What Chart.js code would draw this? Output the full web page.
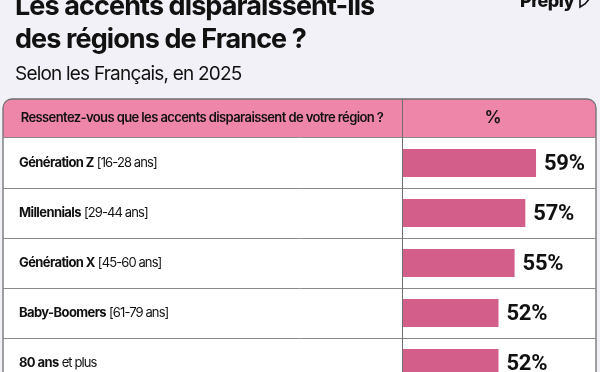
<!DOCTYPE html>
<html>
<head>
<meta charset="utf-8">
<script src="https://cdn.jsdelivr.net/npm/chart.js@4.4.1/dist/chart.umd.min.js"></script>
<style>
html,body{margin:0;padding:0;overflow:hidden;background:#F2F1F7;}
#wrap{position:relative;width:600px;height:400px;}
</style>
</head>
<body>
<div id="wrap"><canvas id="c"></canvas></div>
<script>
const titleLines = ["Les accents disparaissent-ils", "des régions de France ?"];
const subtitle = "Selon les Français, en 2025";
const headerQuestion = "Ressentez-vous que les accents disparaissent de votre région ?";
const headerValue = "%";
const categoryNames = ["Génération Z", "Millennials", "Génération X", "Baby-Boomers", "80 ans"];
const categoryDetails = ["[16-28 ans]", "[29-44 ans]", "[45-60 ans]", "[61-79 ans]", "et plus"];
const values = [59, 57, 55, 52, 52];
const valueSuffix = "%";

const C = {
  bg: "#F2F1F7", header: "#EE86A9", bar: "#D35E8A", text: "#111111",
  line: "#8a8a8a", border: "#6f6f6f"
};
const TABLE = {left: 3, right: 596, top: 99, headerBottom: 137, divider: 402, radius: 9};

function roundRectTop(ctx, x, y, w, h, r) {
  ctx.beginPath();
  ctx.moveTo(x, y + h);
  ctx.lineTo(x, y + r);
  ctx.arcTo(x, y, x + r, y, r);
  ctx.lineTo(x + w - r, y);
  ctx.arcTo(x + w, y, x + w, y + r, r);
  ctx.lineTo(x + w, y + h);
}

const tablePlugin = {
  id: "tablePlugin",
  beforeDraw(chart) {
    const ctx = chart.ctx;
    const H = chart.height;
    ctx.save();
    ctx.fillStyle = C.bg;
    ctx.fillRect(0, 0, chart.width, H);

    // Titles
    ctx.fillStyle = C.text;
    ctx.textBaseline = "alphabetic";
    ctx.textAlign = "left";
    ctx.font = "700 27px Inter";
    ctx.letterSpacing = "-0.9px";
    ctx.fillText(titleLines[0], 15, 15);
    ctx.fillText(titleLines[1], 15, 48);
    ctx.font = "400 19px Inter";
    ctx.letterSpacing = "-0.8px";
    ctx.fillText(subtitle, 15, 80);

    // Logo
    ctx.font = "800 18px Inter";
    ctx.letterSpacing = "-0.6px";
    ctx.fillText("Preply", 520, 7);
    ctx.letterSpacing = "0px";
    ctx.strokeStyle = C.text; ctx.lineWidth = 1.6;
    ctx.beginPath();
    ctx.moveTo(580, -2); ctx.lineTo(580, 7); ctx.lineTo(585, 4); ctx.lineTo(590, -2);
    ctx.stroke();

    // Table body
    const w = TABLE.right - TABLE.left;
    roundRectTop(ctx, TABLE.left, TABLE.top, w, H - TABLE.top + 5, TABLE.radius);
    ctx.fillStyle = "#ffffff";
    ctx.fill();
    // header
    roundRectTop(ctx, TABLE.left, TABLE.top, w, TABLE.headerBottom - TABLE.top, TABLE.radius);
    ctx.closePath();
    ctx.fillStyle = C.header;
    ctx.fill();
    // border
    roundRectTop(ctx, TABLE.left, TABLE.top, w, H - TABLE.top + 5, TABLE.radius);
    ctx.strokeStyle = C.border; ctx.lineWidth = 1.3;
    ctx.stroke();

    // row separators
    const y = chart.scales.y;
    ctx.strokeStyle = C.line; ctx.lineWidth = 1;
    ctx.beginPath();
    ctx.moveTo(TABLE.left, TABLE.headerBottom + 0.5);
    ctx.lineTo(TABLE.right, TABLE.headerBottom + 0.5);
    for (let i = 0; i < values.length - 1; i++) {
      const yy = Math.round((y.getPixelForValue(i) + y.getPixelForValue(i + 1)) / 2) + 0.5;
      ctx.moveTo(TABLE.left, yy);
      ctx.lineTo(TABLE.right, yy);
    }
    ctx.stroke();

    // header text
    ctx.fillStyle = C.text;
    ctx.textBaseline = "middle";
    ctx.textAlign = "center";
    ctx.font = "600 13px Inter";
    ctx.letterSpacing = "-0.6px";
    ctx.fillText(headerQuestion, 202, 118);
    ctx.font = "600 17px Inter";
    ctx.letterSpacing = "0px";
    ctx.fillText(headerValue, 493, 118);

    // row labels
    ctx.textAlign = "left";
    for (let i = 0; i < categoryNames.length; i++) {
      const py = y.getPixelForValue(i);
      ctx.font = "700 13px Inter";
      ctx.letterSpacing = "-0.6px";
      ctx.fillText(categoryNames[i], 19, py);
      const wName = ctx.measureText(categoryNames[i]).width;
      ctx.font = "400 13px Inter";
      ctx.letterSpacing = "-0.9px";
      ctx.fillText(categoryDetails[i], 19 + wName + 3, py);
    }
    ctx.restore();
  },
  afterDatasetsDraw(chart) {
    const ctx = chart.ctx;
    ctx.save();
    // vertical divider
    ctx.strokeStyle = C.border; ctx.lineWidth = 1;
    ctx.beginPath();
    ctx.moveTo(TABLE.divider + 0.5, TABLE.top);
    ctx.lineTo(TABLE.divider + 0.5, chart.height);
    ctx.stroke();
    // value labels
    const meta = chart.getDatasetMeta(0);
    ctx.fillStyle = C.text;
    ctx.font = "700 22px Roboto";
    ctx.letterSpacing = "-0.3px";
    ctx.textAlign = "left";
    ctx.textBaseline = "middle";
    meta.data.forEach((bar, i) => {
      ctx.fillText(values[i] + valueSuffix, bar.x + 8, bar.y + 1);
    });
    ctx.restore();
  }
};

new Chart(document.getElementById("c"), {
  type: "bar",
  data: {
    labels: categoryNames.map((n, i) => n + " " + categoryDetails[i]),
    datasets: [{
      data: values,
      backgroundColor: C.bar,
      borderWidth: 0,
      barPercentage: 0.56,
      categoryPercentage: 1.0
    }]
  },
  options: {
    indexAxis: "y",
    responsive: true,
    maintainAspectRatio: false,
    animation: false,
    events: [],
    layout: {padding: {left: 402, right: 5, top: 138, bottom: 12}},
    plugins: {legend: {display: false}, tooltip: {enabled: false}, title: {display: false}},
    scales: {
      x: {display: false, min: 34, max: 70},
      y: {display: false}
    }
  },
  plugins: [tablePlugin]
});
</script>
</body>
</html>
